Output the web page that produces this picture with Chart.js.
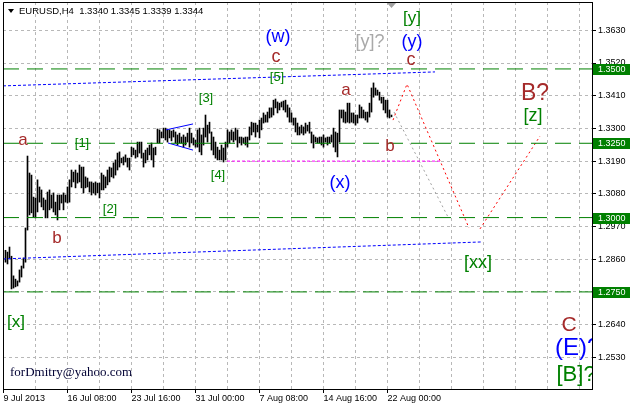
<!DOCTYPE html>
<html>
<head>
<meta charset="utf-8">
<style>
  html, body { margin: 0; padding: 0; background: #fff; }
  canvas { display: block; }
</style>
</head>
<body>
<canvas id="priceChart" width="633" height="408"></canvas>
<script src="https://cdn.jsdelivr.net/npm/chart.js@4.4.1/dist/chart.umd.min.js"></script>
<script>
// EURUSD H4 bars from 9 Jul 2013, bar n is drawn at index n+1
const highs = [
  1.2890,1.2884,1.2901,1.2870,1.2804,1.2793,1.2787,1.2824,1.2837,1.2864,
  1.2965,1.3207,1.3150,1.3143,1.3069,1.3066,1.3127,1.3103,1.3093,1.3066,
  1.3059,1.3086,1.3093,1.3076,1.3083,1.3052,1.3076,1.3076,1.3076,1.3083,
  1.3076,1.3103,1.3127,1.3160,1.3153,1.3160,1.3150,1.3177,1.3170,1.3170,
  1.3137,1.3133,1.3120,1.3120,1.3116,1.3120,1.3116,1.3116,1.3150,1.3143,
  1.3137,1.3160,1.3170,1.3167,1.3184,1.3194,1.3217,1.3221,1.3200,1.3204,
  1.3211,1.3200,1.3200,1.3237,1.3234,1.3227,1.3254,1.3254,1.3254,1.3217,
  1.3227,1.3234,1.3244,1.3251,1.3234,1.3237,1.3298,1.3295,1.3288,1.3301,
  1.3301,1.3295,1.3295,1.3291,1.3295,1.3288,1.3278,1.3284,1.3271,1.3278,
  1.3271,1.3284,1.3301,1.3284,1.3268,1.3261,1.3295,1.3301,1.3278,1.3301,
  1.3345,1.3311,1.3321,1.3288,1.3271,1.3254,1.3237,1.3227,1.3244,1.3234,
  1.3254,1.3295,1.3288,1.3295,1.3288,1.3301,1.3295,1.3271,1.3271,1.3268,
  1.3271,1.3271,1.3305,1.3321,1.3318,1.3318,1.3311,1.3328,1.3335,1.3352,
  1.3345,1.3355,1.3369,1.3369,1.3395,1.3399,1.3389,1.3385,1.3389,1.3392,
  1.3395,1.3379,1.3369,1.3352,1.3335,1.3335,1.3318,1.3305,1.3311,1.3305,
  1.3318,1.3311,1.3321,1.3288,1.3278,1.3271,1.3268,1.3271,1.3271,1.3278,
  1.3268,1.3271,1.3271,1.3278,1.3301,1.3288,1.3284,1.3362,1.3362,1.3362,
  1.3355,1.3385,1.3385,1.3352,1.3352,1.3345,1.3345,1.3379,1.3372,1.3362,
  1.3355,1.3355,1.3385,1.3436,1.3453,1.3436,1.3429,1.3422,1.3405,1.3405,
  1.3395,1.3395,1.3362,1.3345
];
const lows = [
  1.2850,1.2844,1.2864,1.2760,1.2763,1.2767,1.2770,1.2783,1.2800,1.2830,
  1.2850,1.2958,1.3009,1.3016,1.3002,1.2999,1.3019,1.3052,1.3036,1.3026,
  1.2999,1.2999,1.3026,1.3032,1.3019,1.3009,1.2992,1.3026,1.3049,1.3026,
  1.3052,1.3049,1.3052,1.3103,1.3120,1.3100,1.3116,1.3120,1.3100,1.3083,
  1.3100,1.3103,1.3086,1.3076,1.3083,1.3076,1.3083,1.3066,1.3093,1.3093,
  1.3100,1.3110,1.3120,1.3137,1.3133,1.3143,1.3160,1.3170,1.3184,1.3177,
  1.3187,1.3170,1.3160,1.3204,1.3211,1.3200,1.3204,1.3217,1.3200,1.3170,
  1.3184,1.3194,1.3211,1.3194,1.3170,1.3211,1.3251,1.3251,1.3268,1.3268,
  1.3261,1.3254,1.3268,1.3258,1.3271,1.3251,1.3244,1.3251,1.3251,1.3237,
  1.3244,1.3254,1.3237,1.3251,1.3244,1.3237,1.3237,1.3221,1.3211,1.3244,
  1.3271,1.3254,1.3284,1.3227,1.3211,1.3200,1.3194,1.3194,1.3194,1.3187,
  1.3194,1.3237,1.3251,1.3261,1.3254,1.3261,1.3237,1.3251,1.3244,1.3251,
  1.3244,1.3237,1.3261,1.3278,1.3288,1.3271,1.3288,1.3268,1.3295,1.3318,
  1.3321,1.3321,1.3335,1.3338,1.3345,1.3369,1.3352,1.3362,1.3372,1.3362,
  1.3355,1.3338,1.3321,1.3321,1.3311,1.3288,1.3278,1.3278,1.3284,1.3278,
  1.3284,1.3291,1.3284,1.3251,1.3234,1.3254,1.3251,1.3251,1.3244,1.3237,
  1.3254,1.3244,1.3251,1.3254,1.3237,1.3221,1.3204,1.3254,1.3335,1.3321,
  1.3318,1.3321,1.3318,1.3321,1.3318,1.3311,1.3318,1.3335,1.3335,1.3335,
  1.3328,1.3321,1.3338,1.3355,1.3405,1.3412,1.3412,1.3395,1.3385,1.3362,
  1.3352,1.3338,1.3335,1.3339
];
const lastBar = [1.3340, 1.3345, 1.3339, 1.3344]; // open high low close

const timeLabels = ['9 Jul 2013', '16 Jul 08:00', '23 Jul 16:00', '31 Jul 00:00',
                    '7 Aug 08:00', '14 Aug 16:00', '22 Aug 00:00'];
const priceTicks = [1.3630, 1.3520, 1.3410, 1.3300, 1.3190, 1.3080,
                    1.2970, 1.2860, 1.2750, 1.2640, 1.2530];
const levels = [1.3500, 1.3250, 1.3000, 1.2750];

// trend lines, in bar index / price
const upperChannel = [{x: -0.25, y: 1.3443}, {x: 215.75, y: 1.3490}];
const lowerChannel = [{x: -0.25, y: 1.2861}, {x: 238.75, y: 1.2918}];
const triangleTop = [{x: 81.25, y: 1.3295}, {x: 94.75, y: 1.3315}];
const triangleBottom = [{x: 82.25, y: 1.3251}, {x: 94.75, y: 1.3227}];
const xLine = [{x: 111.75, y: 1.3190}, {x: 219.25, y: 1.3190}];
const forecastDown = [{x: 194.75, y: 1.3328}, {x: 201.75, y: 1.3449}, {x: 232.75, y: 1.2965}];
const forecastUp = [{x: 238.25, y: 1.2962}, {x: 268.25, y: 1.3274}];
const altPath = [{x: 195.25, y: 1.3355}, {x: 222.25, y: 1.3002}];

const brown = '#a52a2a', blue = '#0000ff', green = '#008000', grey = '#a9a9a9';
const waveLabels = [
  {t: 'a', at: 9.75, p: 1.3261, c: brown, s: 17},
  {t: 'b', at: 26.75, p: 1.2931, c: brown, s: 17},
  {t: '[1]', at: 39.25, p: 1.3251, c: green, s: 13},
  {t: '[2]', at: 53.25, p: 1.3026, c: green, s: 13},
  {t: '[3]', at: 101.25, p: 1.3402, c: green, s: 13},
  {t: '[4]', at: 107.25, p: 1.3143, c: green, s: 13},
  {t: '[5]', at: 136.75, p: 1.3470, c: green, s: 13},
  {t: 'c', at: 136.25, p: 1.3540, c: brown, s: 18},
  {t: '(w)', at: 137.25, p: 1.3607, c: blue, s: 18},
  {t: '[y]?', at: 183.25, p: 1.3591, c: grey, s: 18},
  {t: '[y]', at: 204.25, p: 1.3671, c: green, s: 17},
  {t: '(y)', at: 204.25, p: 1.3591, c: blue, s: 18},
  {t: 'c', at: 203.75, p: 1.3530, c: brown, s: 18},
  {t: 'a', at: 171.25, p: 1.3429, c: brown, s: 17},
  {t: 'b', at: 193.25, p: 1.3241, c: brown, s: 17},
  {t: '(x)', at: 168.25, p: 1.3116, c: blue, s: 18},
  {t: 'B?', at: 265.75, p: 1.3416, c: brown, s: 23},
  {t: '[z]', at: 264.75, p: 1.3342, c: green, s: 18},
  {t: '[xx]', at: 237.25, p: 1.2847, c: green, s: 18},
  {t: '[x]', at: 6.25, p: 1.2649, c: green, s: 17},
  {t: 'C', at: 282.75, p: 1.2639, c: brown, s: 21},
  {t: '(E)?', at: 275.75, p: 1.2561, c: blue, s: 24, left: true},
  {t: '[B]?', at: 276.5, p: 1.2471, c: green, s: 22, left: true}
];

const sans = '"Liberation Sans", Arial, sans-serif';

function line(data, color, dash) {
  return {type: 'line', data: data, borderColor: color, borderWidth: 1, borderDash: dash,
          pointRadius: 0, fill: false, tension: 0, order: 1};
}

const overlay = {
  id: 'overlay',
  afterDatasetsDraw(chart) {
    const {ctx, chartArea: a, scales: {x, y}} = chart;
    ctx.save();
    ctx.beginPath();
    ctx.rect(a.left, a.top, a.right - a.left, a.bottom - a.top);
    ctx.clip();
    ctx.textBaseline = 'middle';
    waveLabels.forEach(l => {
      ctx.font = l.s + 'px ' + sans;
      ctx.fillStyle = l.c;
      ctx.textAlign = l.left ? 'left' : 'center';
      ctx.fillText(l.t, x.getPixelForValue(l.at), y.getPixelForValue(l.p));
    });
    ctx.font = '13px "Liberation Serif", "Times New Roman", serif';
    ctx.fillStyle = '#000033';
    ctx.textAlign = 'left';
    ctx.fillText('forDmitry@yahoo.com', a.left + 7, a.bottom - 16);
    ctx.restore();
  },
  afterDraw(chart) {
    const {ctx, chartArea: a, scales: {y}} = chart;
    ctx.save();
    ctx.strokeStyle = '#000';
    ctx.lineWidth = 1;
    ctx.beginPath();
    ctx.moveTo(a.left + 0.5, a.bottom);
    ctx.lineTo(a.left + 0.5, a.top + 0.5);
    ctx.lineTo(a.right, a.top + 0.5);
    ctx.stroke();

    // price boxes for the horizontal levels
    ctx.font = '9px ' + sans;
    ctx.textBaseline = 'middle';
    ctx.textAlign = 'left';
    levels.forEach(v => {
      const py = Math.round(y.getPixelForValue(v));
      ctx.fillStyle = green;
      ctx.fillRect(a.right + 1, py - 5, 37, 11);
      ctx.fillStyle = '#fff';
      ctx.fillText(v.toFixed(4), a.right + 6, py + 0.5);
    });

    // header
    ctx.fillStyle = '#000';
    ctx.beginPath();
    ctx.moveTo(a.left + 5, 9);
    ctx.lineTo(a.left + 11, 9);
    ctx.lineTo(a.left + 8, 13);
    ctx.closePath();
    ctx.fill();
    ctx.font = '9.5px ' + sans;
    ctx.fillText('EURUSD,H4  ' + lastBar.map(v => v.toFixed(4)).join(' '), a.left + 16, 11);

    // chart shift marker
    ctx.fillStyle = '#a0a0a0';
    ctx.beginPath();
    ctx.moveTo(387, a.top + 1);
    ctx.lineTo(396, a.top + 1);
    ctx.lineTo(391.5, a.top + 6);
    ctx.closePath();
    ctx.fill();
    ctx.restore();
  }
};

const datasets = [
  {
    type: 'bar',
    data: highs.map((h, i) => ({x: i + 1, y: [lows[i], h]})),
    backgroundColor: '#000',
    borderWidth: 0,
    barThickness: 1,
    order: 5
  }
];
levels.forEach(v => datasets.push(line([{x: -0.25, y: v}, {x: 294.25, y: v}], green, [16, 8])));
datasets.push(line(upperChannel, blue, [3, 2]));
datasets.push(line(lowerChannel, blue, [3, 2]));
datasets.push(line(triangleTop, blue, []));
datasets.push(line(triangleBottom, blue, []));
datasets.push(line(xLine, '#ff00ff', [3, 2]));
datasets.push(line(altPath, '#a0a0a0', [2, 3]));
datasets.push(line(forecastDown, '#ff0000', [2, 3]));
datasets.push(line(forecastUp, '#ff0000', [2, 3]));

const gridIdx = [];
for (let i = 0; i <= 288; i += 16) gridIdx.push(i);

const ctx = document.getElementById('priceChart').getContext('2d');
const priceChart = new Chart(ctx, {
  type: 'bar',
  data: {datasets: datasets},
  options: {
    responsive: false,
    devicePixelRatio: 1,
    animation: false,
    layout: {padding: {left: 3, top: 2, right: 0, bottom: 0}},
    plugins: {legend: {display: false}, tooltip: {enabled: false}},
    scales: {
      x: {
        type: 'linear',
        min: -0.25,
        max: 294.25,
        offset: false,
        afterBuildTicks: s => { s.ticks = gridIdx.map(v => ({value: v})); },
        afterFit: s => { s.height = 19; s.paddingLeft = 0; s.paddingRight = 0; },
        grid: {
          color: '#b8b8b8',
          offset: false,
          tickLength: 4,
          tickColor: c => (c.tick && c.tick.value % 32 === 0 && timeLabels[c.tick.value / 32]) ? '#000' : 'rgba(0,0,0,0)'
        },
        border: {color: '#000', dash: [3, 3]},
        ticks: {
          autoSkip: false,
          maxRotation: 0,
          align: 'start',
          padding: 0,
          color: '#000',
          font: {family: sans, size: 9},
          callback: v => (v % 32 === 0 && timeLabels[v / 32]) ? timeLabels[v / 32] : ''
        }
      },
      y: {
        position: 'right',
        min: 1.24234,
        max: 1.37252,
        afterBuildTicks: s => { s.ticks = priceTicks.map(v => ({value: v})); },
        afterFit: s => { s.width = 41; s.paddingTop = 0; s.paddingBottom = 0; },
        grid: {color: '#b8b8b8', tickLength: 4, tickColor: '#000'},
        border: {color: '#000', dash: [3, 3]},
        ticks: {
          padding: 2,
          color: '#000',
          font: {family: sans, size: 9},
          callback: v => v.toFixed(4)
        }
      }
    }
  },
  plugins: [overlay]
});
</script>
</body>
</html>
